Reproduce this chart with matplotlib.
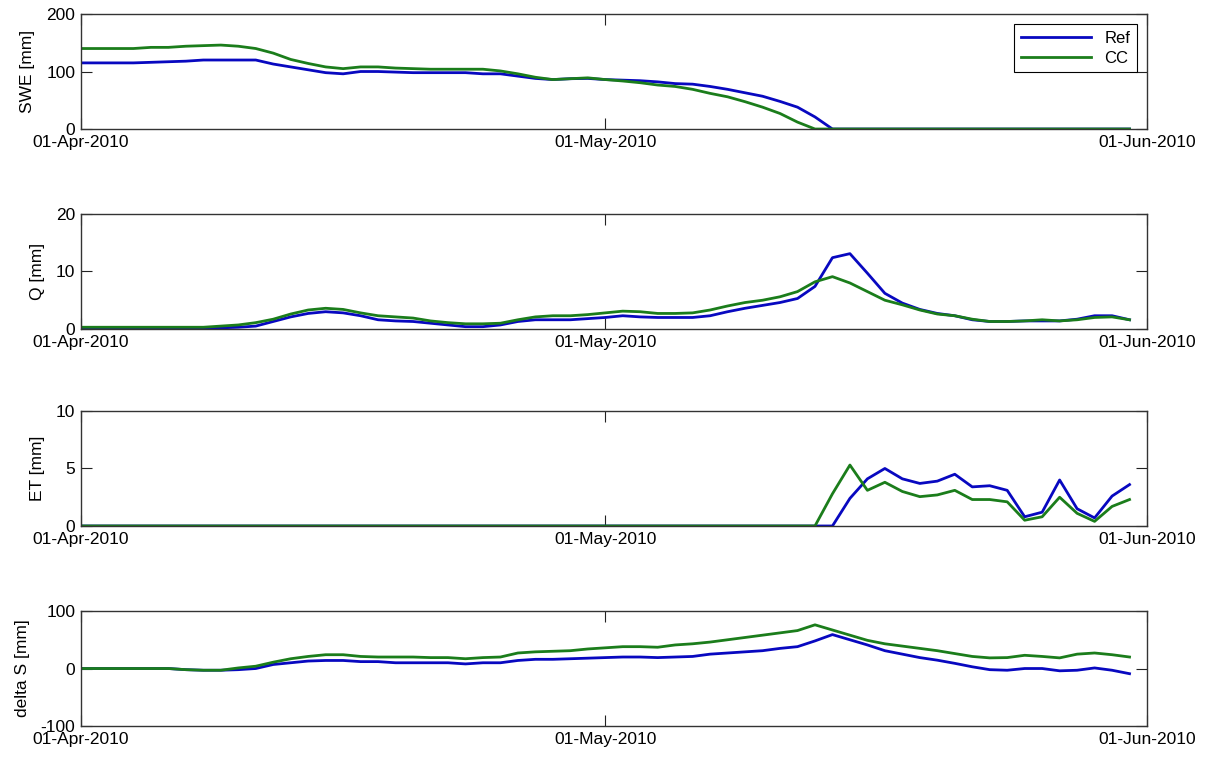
import matplotlib
matplotlib.use("Agg")
import matplotlib.pyplot as plt
import matplotlib.dates as mdates
import numpy as np
import pandas as pd

plt.rcParams['font.family'] = ['Liberation Sans', 'DejaVu Sans']
plt.rcParams['axes.unicode_minus'] = False

# daily series, 01-Apr-2010 .. 31-May-2010
days = pd.date_range('2010-04-01', periods=61, freq='D')

swe_ref = [115, 115, 115, 115, 116, 117, 118, 120, 120, 120,
           120, 113, 108, 103, 98, 96, 100, 100, 99, 98,
           98, 98, 98, 96, 96, 92, 88, 86, 87.5, 88,
           86, 85, 84, 82, 79, 78, 74, 69, 63, 57,
           48, 38, 21, 0, 0, 0, 0, 0, 0, 0,
           0, 0, 0, 0, 0, 0, 0, 0, 0, 0, 0]
swe_cc = [140, 140, 140, 140, 142, 142, 144, 145, 146, 144,
          140, 132, 121, 114, 108, 105, 108, 108, 106, 105,
          104, 104, 104, 104, 101, 96, 90, 86, 87.5, 89,
          86, 83.5, 80.5, 76.5, 74, 69, 62, 56, 47.5, 38,
          27, 12, 0, 0, 0, 0, 0, 0, 0, 0,
          0, 0, 0, 0, 0, 0, 0, 0, 0, 0, 0]

q_ref = [0.2, 0.2, 0.2, 0.2, 0.2, 0.2, 0.2, 0.2, 0.2, 0.3,
         0.5, 1.3, 2.1, 2.7, 3.0, 2.8, 2.3, 1.6, 1.4, 1.3,
         1.0, 0.7, 0.4, 0.4, 0.7, 1.3, 1.6, 1.6, 1.6, 1.8,
         2.0, 2.3, 2.1, 2.0, 2.0, 2.0, 2.3, 3.0, 3.6, 4.1,
         4.6, 5.3, 7.4, 12.4, 13.1, 9.7, 6.2, 4.5, 3.4, 2.7,
         2.3, 1.6, 1.3, 1.3, 1.4, 1.4, 1.4, 1.7, 2.3, 2.3, 1.6]
q_cc = [0.3, 0.3, 0.3, 0.3, 0.3, 0.3, 0.3, 0.3, 0.5, 0.7,
        1.1, 1.7, 2.6, 3.3, 3.6, 3.4, 2.8, 2.3, 2.1, 1.9,
        1.4, 1.1, 0.9, 0.9, 1.0, 1.6, 2.1, 2.3, 2.3, 2.5,
        2.8, 3.1, 3.0, 2.7, 2.7, 2.8, 3.3, 4.0, 4.6, 5.0,
        5.6, 6.5, 8.2, 9.1, 8.0, 6.5, 5.0, 4.2, 3.3, 2.6,
        2.3, 1.7, 1.3, 1.3, 1.4, 1.6, 1.4, 1.6, 2.0, 2.1, 1.6]

et_ref = [0] * 44 + [2.4, 4.1, 5.0, 4.1, 3.7, 3.9, 4.5, 3.4, 3.5, 3.1,
                     0.8, 1.2, 4.0, 1.5, 0.7, 2.6, 3.6]
et_cc = [0] * 43 + [2.8, 5.3, 3.1, 3.8, 3.0, 2.55, 2.7, 3.1, 2.3, 2.3,
                    2.1, 0.5, 0.8, 2.5, 1.1, 0.4, 1.7, 2.3]

ds_ref = [0, 0, 0, 0, 0, 0, -2, -3, -3, -2,
          0, 7, 10, 13, 14, 14, 12, 12, 10, 10,
          10, 10, 8, 10, 10, 14, 16, 16, 17, 18,
          19, 20, 20, 19, 20, 21, 25, 27, 29, 31,
          35, 38, 48, 59, 50, 41, 31, 25, 19, 14.5,
          9, 3, -2, -3, 0, 0, -4, -3, 1, -3, -9]
ds_cc = [0, 0, 0, 0, 0, 0, -2, -3, -3, 1,
         4, 11, 17, 21, 24, 24, 21, 20, 20, 20,
         19, 19, 17, 19, 20, 27, 29, 30, 31, 34,
         36, 38, 38, 37, 41, 43, 46, 50, 54, 58,
         62, 66, 76, 67, 58, 49, 43, 39, 35, 31,
         26, 21, 18.5, 19, 23, 21, 18.5, 25, 27, 24, 20]

panels = [
    (swe_ref, swe_cc, 'SWE [mm]', [0, 100, 200], (0, 200)),
    (q_ref, q_cc, 'Q [mm]', [0, 10, 20], (0, 20)),
    (et_ref, et_cc, 'ET [mm]', [0, 5, 10], (0, 10)),
    (ds_ref, ds_cc, 'delta S [mm]', [-100, 0, 100], (-100, 100)),
]

date_ticks = pd.to_datetime(['2010-04-01', '2010-05-01', '2010-06-01'])
blue = '#0808c0'
green = '#1b7d1b'

fig = plt.figure(figsize=(12.07, 7.58), dpi=100)
left, width, height = 0.0671, 0.8832, 0.1517
bottoms = [0.8298, 0.5660, 0.3061, 0.0422]

for (ref, cc, label, yt, ylim), b in zip(panels, bottoms):
    ax = fig.add_axes([left, b, width, height])
    ax.plot(days, ref, color=blue, lw=2, label='Ref')
    ax.plot(days, cc, color=green, lw=2, label='CC')
    ax.set_xlim(date_ticks[0], date_ticks[-1])
    ax.set_ylim(*ylim)
    ax.set_yticks(yt)
    ax.set_xticks(date_ticks)
    ax.xaxis.set_major_formatter(mdates.DateFormatter('%d-%b-%Y'))
    ax.tick_params(direction='in', length=7.7, width=0.8, labelsize=12.5,
                   top=True, right=True, colors='#222222', labelcolor='black')
    ax.tick_params(axis='x', pad=4.5)
    ax.tick_params(axis='y', pad=4)
    for s in ax.spines.values():
        s.set_linewidth(1.0)
        s.set_color('#333333')
    ax.set_ylabel(label, fontsize=12.5, labelpad=8)
    if label == 'SWE [mm]':
        leg = ax.legend(loc='upper right', fontsize=12, handlelength=4.2,
                        fancybox=False, framealpha=1, edgecolor='black',
                        borderaxespad=0.6, labelspacing=0.3)
        leg.get_frame().set_linewidth(0.8)

fig.savefig('out.png', dpi=100)
